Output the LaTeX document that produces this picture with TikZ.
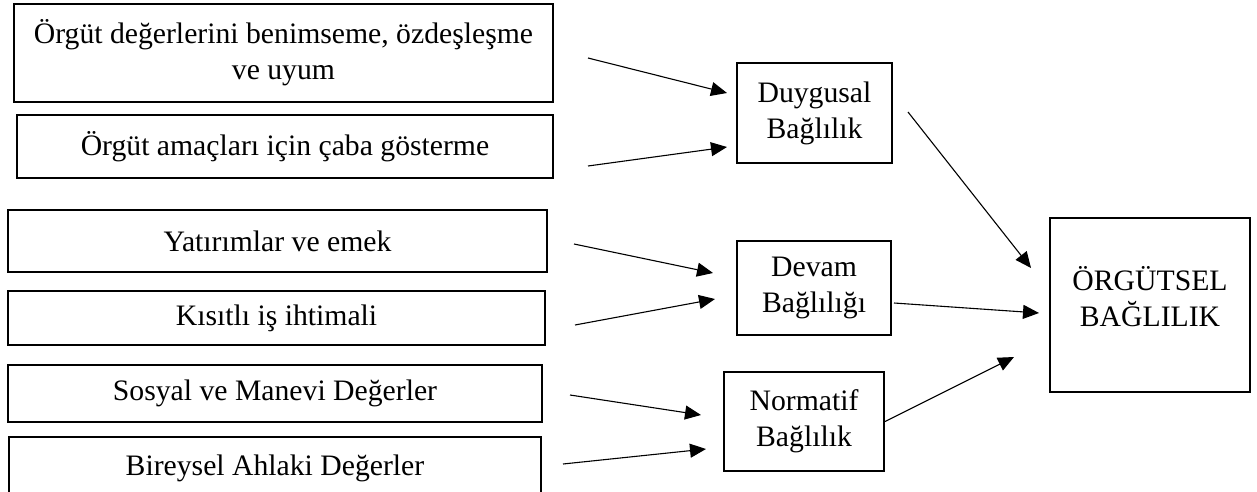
\documentclass[tikz,border=0pt]{standalone}
\usepackage{fontspec}
\setmainfont{Liberation Serif}
\usetikzlibrary{arrows.meta}

\begin{document}
\begin{tikzpicture}[
  x=1pt, y=-1pt,
  box/.style={draw=black, line width=2pt, align=center, inner sep=0pt,
    font=\fontsize{29.7}{36}\selectfont},
  arr/.style={line width=1.1pt, -{Triangle[length=16pt,width=14pt]}}]
  \useasboundingbox (0,0) rectangle (1257,492);

% Left boxes
  \node[box, minimum width=539pt, minimum height=98pt] (deger) at (283.5,53)
    {Örgüt değerlerini benimseme, özdeşleşme\\ve uyum};
  \node[box, minimum width=536pt, minimum height=63pt] (caba) at (285,146.5)
    {Örgüt amaçları için çaba gösterme};
  \node[box, minimum width=539pt, minimum height=62pt] (yatirim) at (277.5,241)
    {Yatırımlar ve emek};
  \node[box, minimum width=537pt, minimum height=54pt] (kisit) at (276.5,318)
    {Kısıtlı iş ihtimali};
  \node[box, minimum width=534pt, minimum height=57pt] (sosyal) at (275,393.5)
    {Sosyal ve Manevi Değerler};
  % bottom box runs off the page
  \node[box, minimum width=532pt, minimum height=62pt] (ahlak) at (275,468)
    {Bireysel Ahlaki Değerler};

% Middle boxes
  \node[box, minimum width=155pt, minimum height=100pt] (duygu) at (814.5,113)
    {Duygusal\\Bağlılık};
  \node[box, minimum width=154pt, minimum height=94pt] (devam) at (814,288)
    {Devam\\Bağlılığı};
  \node[box, minimum width=160pt, minimum height=99pt] (norm) at (804,421.5)
    {Normatif\\Bağlılık};

% Right box, text sits a bit high
  \node[box, minimum width=200pt, minimum height=174pt, text depth=18pt]
    (orgut) at (1150,305) {ÖRGÜTSEL\\BAĞLILIK};

% Arrows: source/xshift/yshift/target/xshift/yshift
  \foreach \s/\sx/\sy/\t/\tx/\ty in {
    deger/34/-5/duygu/-9/20, caba/34/-19.5/duygu/-9/-34,
    yatirim/26/-3/devam/-23/15, kisit/29/-7/devam/-21/-11,
    sosyal/27/-1.5/norm/-22/6.5, ahlak/21/4/norm/-17/-27.5,
    duygu/15/1/orgut/-18/37, devam/2/-15/orgut/-10/-8,
    norm/0/0/orgut/-35/-52}
    \draw[arr] ([xshift=\sx pt,yshift=\sy pt]\s.east)
      -- ([xshift=\tx pt,yshift=\ty pt]\t.west);
\end{tikzpicture}
\end{document}
